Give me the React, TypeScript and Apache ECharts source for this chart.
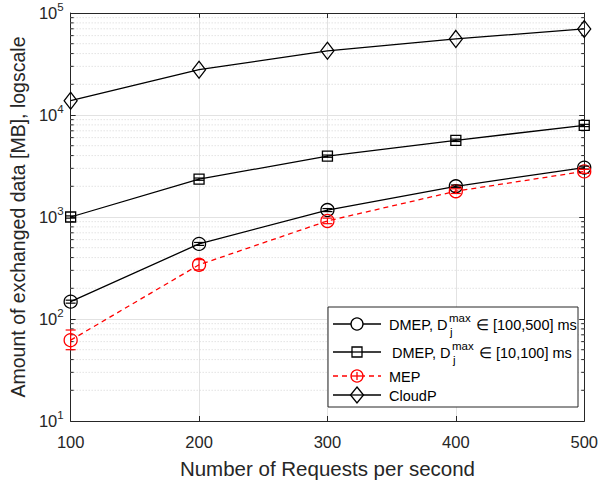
import React, { useEffect, useRef } from "react";
import * as echarts from "echarts";

const xs = [100, 200, 300, 400, 500];
const dmepWide = [148, 545, 1170, 2000, 3050];
const dmepWideLow = [143, 527, 1130, 1940, 2950];
const dmepWideHigh = [153, 563, 1210, 2060, 3150];
const dmepNarrow = [1000, 2350, 3950, 5650, 7900];
const dmepNarrowLow = [975, 2290, 3850, 5500, 7700];
const dmepNarrowHigh = [1025, 2410, 4050, 5800, 8100];
const mep = [62, 340, 915, 1790, 2800];
const mepLow = [50, 303, 860, 1700, 2680];
const mepHigh = [78, 382, 975, 1890, 2930];
const cloudP = [13800, 27800, 42600, 55700, 69800];
const minorValues = [10, 100, 1000, 10000].flatMap((d) => [2, 3, 4, 5, 6, 7, 8, 9].map((m) => m * d));

const FONT = "'Liberation Sans', Arial, Helvetica, sans-serif";
const AX = "#262626";
const GRID = "#e2e2e2";

function errorSeries(low: number[], high: number[], color: string) {
  return {
    type: "custom",
    xAxisIndex: 0,
    yAxisIndex: 0,
    z: 4,
    silent: true,
    encode: { x: 0, y: [1, 2] },
    data: xs.map((x, i) => [x, low[i], high[i]]),
    renderItem: (params: any, api: any) => {
      const x = api.value(0);
      const p1 = api.coord([x, api.value(1)]);
      const p2 = api.coord([x, api.value(2)]);
      const w = 5;
      const st = { stroke: color, lineWidth: 1.2 };
      return {
        type: "group",
        children: [
          { type: "line", shape: { x1: p1[0], y1: p1[1], x2: p2[0], y2: p2[1] }, style: st },
          { type: "line", shape: { x1: p1[0] - w, y1: p1[1], x2: p1[0] + w, y2: p1[1] }, style: st },
          { type: "line", shape: { x1: p2[0] - w, y1: p2[1], x2: p2[0] + w, y2: p2[1] }, style: st },
        ],
      };
    },
  };
}

function lineSeries(name: string, data: number[], color: string, symbol: string, size: any, dashed: boolean) {
  return {
    name,
    type: "line",
    xAxisIndex: 0,
    yAxisIndex: 0,
    z: 3,
    data: xs.map((x, i) => [x, data[i]]),
    symbol,
    symbolSize: size,
    showAllSymbol: true,
    lineStyle: { color, width: 1.3, type: dashed ? [5, 4] : "solid" },
    itemStyle: { color: "transparent", borderColor: color, borderWidth: 1.3 },
  };
}

function legendGraphic() {
  const L = 328, T = 307, R = 578, B = 407;
  const lx1 = 333, lx2 = 381, mx = 357;
  const blk = { stroke: "#000", lineWidth: 1.3 };
  const red = { stroke: "#ff0000", lineWidth: 1.3 };
  const txt = (text: string, x: number, y: number, size: number) => ({
    type: "text",
    x,
    y,
    z: 101,
    style: { text, fontSize: size, fontFamily: FONT, fill: "#000", align: "left", verticalAlign: "middle" },
  });
  const rows = [324, 352, 376, 395];
  const children: any[] = [
    { type: "rect", shape: { x: L, y: T, width: R - L, height: B - T }, style: { fill: "#fff", stroke: AX, lineWidth: 1 }, z: 100 },
    // row 1
    { type: "line", z: 101, shape: { x1: lx1, y1: rows[0], x2: lx2, y2: rows[0] }, style: blk },
    { type: "circle", z: 102, shape: { cx: mx, cy: rows[0], r: 6 }, style: { fill: "#fff", ...blk } },
    txt("DMEP, D", 389, rows[0] + 1, 14.5),
    txt("max", 449, rows[0] - 6, 11.5),
    txt("j", 450, rows[0] + 8, 11.5),
    txt("∈ [100,500] ms", 476, rows[0] + 1, 14.5),
    // row 2
    { type: "line", z: 101, shape: { x1: lx1, y1: rows[1], x2: lx2, y2: rows[1] }, style: blk },
    { type: "rect", z: 102, shape: { x: mx - 5, y: rows[1] - 5, width: 10, height: 10 }, style: { fill: "#fff", ...blk } },
    { type: "line", z: 103, shape: { x1: mx - 5, y1: rows[1], x2: mx + 5, y2: rows[1] }, style: blk },
    txt("DMEP, D", 392, rows[1] + 1, 14.5),
    txt("max", 452, rows[1] - 6, 11.5),
    txt("j", 453, rows[1] + 8, 11.5),
    txt("∈ [10,100] ms", 479, rows[1] + 1, 14.5),
    // row 3
    { type: "line", z: 101, shape: { x1: lx1, y1: rows[2], x2: lx2, y2: rows[2] }, style: { ...red, lineDash: [5, 4] } },
    { type: "circle", z: 102, shape: { cx: mx, cy: rows[2], r: 6 }, style: { fill: "#fff", ...red } },
    { type: "line", z: 103, shape: { x1: mx - 6, y1: rows[2], x2: mx + 6, y2: rows[2] }, style: red },
    { type: "line", z: 103, shape: { x1: mx, y1: rows[2] - 4, x2: mx, y2: rows[2] + 4 }, style: red },
    txt("MEP", 389, rows[2] + 1, 14.5),
    // row 4
    { type: "line", z: 101, shape: { x1: lx1, y1: rows[3], x2: lx2, y2: rows[3] }, style: blk },
    {
      type: "polygon",
      z: 102,
      shape: { points: [[mx, rows[3] - 8], [mx + 6.5, rows[3]], [mx, rows[3] + 8], [mx - 6.5, rows[3]]] },
      style: { fill: "#fff", ...blk },
    },
    { type: "line", z: 103, shape: { x1: mx - 6.5, y1: rows[3], x2: mx + 6.5, y2: rows[3] }, style: blk },
    txt("CloudP", 389, rows[3] + 1, 14.5),
  ];
  return children;
}

export default function App() {
  const ref = useRef<HTMLDivElement>(null);
  useEffect(() => {
    if (!ref.current) return;
    const chart = echarts.init(ref.current, undefined, { renderer: "svg" });
    const labelRich = {
      b: { fontSize: 16.5, color: AX, fontFamily: FONT },
      s: { fontSize: 11.5, color: AX, fontFamily: FONT, padding: [0, 0, 12, 0] },
    };
    const baseX = {
      type: "value",
      min: 100,
      max: 500,
      interval: 100,
      axisLine: { show: true, lineStyle: { color: AX, width: 1 } },
      axisTick: { show: true, inside: true, length: 5, lineStyle: { color: AX } },
    };
    const baseY = {
      type: "log",
      logBase: 10,
      min: 10,
      max: 100000,
      axisLine: { show: true, lineStyle: { color: AX, width: 1 } },
      axisTick: { show: true, inside: true, length: 5, lineStyle: { color: AX } },
    };
    const option: any = {
      animation: false,
      backgroundColor: "#fff",
      grid: { left: 68, right: 9, top: 13, bottom: 61, containLabel: false },
      xAxis: [
        {
          ...baseX,
          position: "bottom",
          name: "Number of Requests per second",
          nameLocation: "middle",
          nameGap: 37,
          nameTextStyle: { fontSize: 20.5, color: AX, fontFamily: FONT },
          axisLabel: { fontSize: 16.5, color: AX, fontFamily: FONT, margin: 12 },
          splitLine: { show: true, lineStyle: { color: GRID, width: 1 } },
        },
        { ...baseX, position: "top", axisLabel: { show: false }, splitLine: { show: false } },
      ],
      yAxis: [
        {
          ...baseY,
          position: "left",
          name: "Amount of exchanged data [MB], logscale",
          nameLocation: "middle",
          nameGap: 38,
          nameRotate: 90,
          nameTextStyle: { fontSize: 19.5, color: AX, fontFamily: FONT },
          axisLabel: {
            margin: 7,
            formatter: (v: number) => `{b|10}{s|${Math.round(Math.log10(v))}}`,
            rich: labelRich,
          },
          splitLine: { show: true, lineStyle: { color: GRID, width: 1 } },
        },
        { ...baseY, position: "right", axisLabel: { show: false }, splitLine: { show: false } },
      ],
      series: [
        {
          type: "custom",
          xAxisIndex: 0,
          yAxisIndex: 0,
          z: 1,
          silent: true,
          encode: { x: 0, y: 1 },
          data: minorValues.map((v) => [100, v]),
          renderItem: (params: any, api: any) => {
            const v = api.value(1);
            const l = api.coord([100, v]);
            const r = api.coord([500, v]);
            return {
              type: "group",
              children: [
                { type: "line", shape: { x1: l[0], y1: l[1], x2: r[0], y2: r[1] }, style: { stroke: "#d4d4d4", lineWidth: 1, lineDash: [1, 2] } },
                { type: "line", shape: { x1: l[0], y1: l[1], x2: l[0] + 3, y2: l[1] }, style: { stroke: AX, lineWidth: 1 } },
                { type: "line", shape: { x1: r[0] - 3, y1: r[1], x2: r[0], y2: r[1] }, style: { stroke: AX, lineWidth: 1 } },
              ],
            };
          },
        },
        lineSeries("DMEP wide", dmepWide, "#000", "circle", 13, false),
        lineSeries("DMEP narrow", dmepNarrow, "#000", "rect", 10, false),
        lineSeries("MEP", mep, "#ff0000", "circle", 13, true),
        lineSeries("CloudP", cloudP, "#000", "diamond", [13, 17], false),
        errorSeries(dmepWideLow, dmepWideHigh, "#000"),
        errorSeries(dmepNarrowLow, dmepNarrowHigh, "#000"),
        errorSeries(mepLow, mepHigh, "#ff0000"),
      ],
      graphic: legendGraphic(),
    };
    chart.setOption(option);
    return () => chart.dispose();
  }, []);
  return <div ref={ref} style={{ width: 601, height: 484, position: "absolute", left: 0, top: 0 }} />;
}
